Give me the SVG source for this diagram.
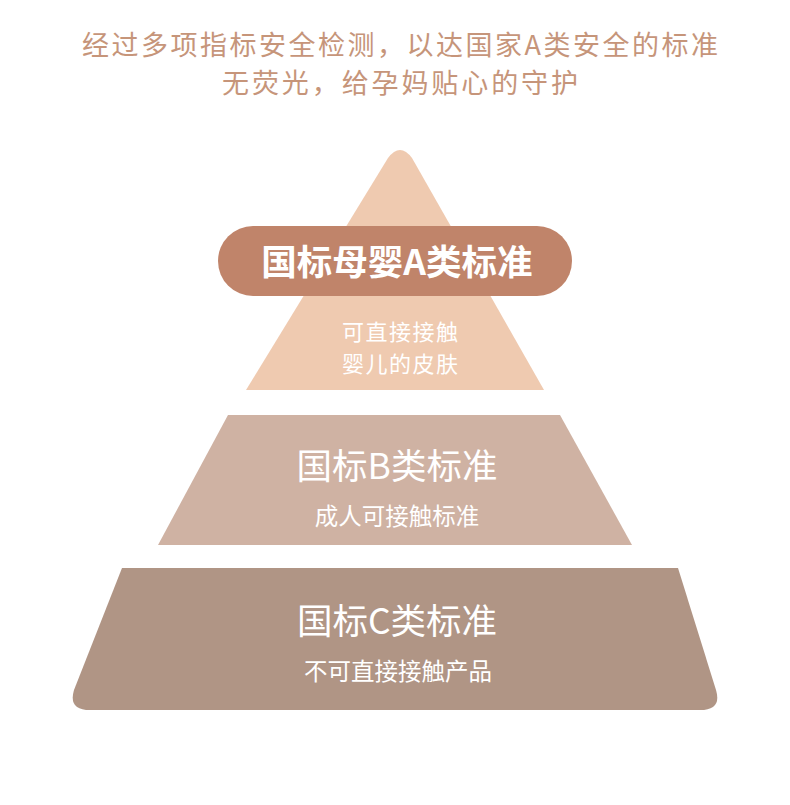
<svg xmlns="http://www.w3.org/2000/svg" width="790" height="805" viewBox="0 0 790 805">
<style>
.t{font-family:"Noto Sans CJK SC","Noto Sans",sans-serif;text-anchor:middle}
.title{fill:#c6957a;font-size:27px}
.w{fill:#ffffff}
</style>
<rect width="790" height="805" fill="#ffffff"/>
<g id="title">
<text class="t title" x="400" y="55" textLength="636" lengthAdjust="spacing">经过多项指标安全检测，以达国家A类安全的标准</text>
<text class="t title" x="400" y="93" textLength="356" lengthAdjust="spacing">无荧光，给孕妈贴心的守护</text>
</g>
<g id="level-a">
<path d="M246,390 L388,158 Q400,142 412,158 L544,390 Z" fill="#efcab0"/>
<rect x="218" y="226" width="354" height="70" rx="35" fill="#c0846a"/>
<text class="t w" x="397" y="275" font-size="35.5" font-weight="bold">国标母婴A类标准</text>
<text class="t w" x="400" y="340" font-size="22" textLength="116" lengthAdjust="spacing">可直接接触</text>
<text class="t w" x="400" y="372" font-size="22" textLength="116" lengthAdjust="spacing">婴儿的皮肤</text>
</g>
<g id="level-b">
<path d="M228,415 L560,415 L632,545 L158,545 Z" fill="#cfb2a3"/>
<text class="t w" x="397" y="479" font-size="35.5">国标B类标准</text>
<text class="t w" x="397" y="525" font-size="23.5">成人可接触标准</text>
</g>
<g id="level-c">
<path d="M122,568 L678,568 L716,690 Q722,710 700,710 L90,710 Q68,710 74,690 Z" fill="#b09585"/>
<text class="t w" x="397" y="634" font-size="35.5">国标C类标准</text>
<text class="t w" x="398" y="680" font-size="23.5">不可直接接触产品</text>
</g>
<g id="connectors"/>
</svg>
